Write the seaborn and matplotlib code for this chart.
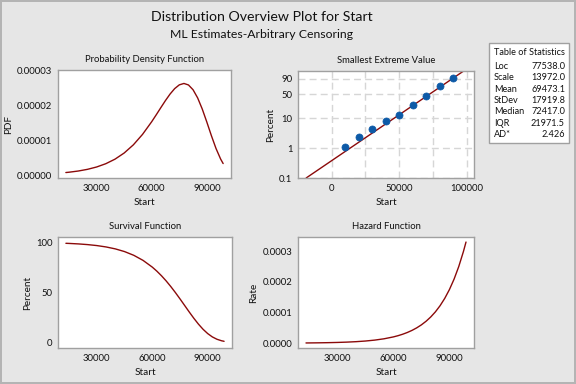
import numpy as np
import pandas as pd
import matplotlib
matplotlib.use("Agg")
import matplotlib.pyplot as plt
from matplotlib.patches import Rectangle
import seaborn as sns

# fitted smallest extreme value curves
start = [13267, 15000, 20000, 25000, 30000, 35000, 40000, 45000, 50000, 55000,
         60000, 62500, 65000, 67500, 70000, 72500, 75000, 77538, 80000, 82500,
         85000, 87500, 90000, 92500, 95000, 97500, 98874]
pdf = [7.12e-7, 8.05e-7, 1.146e-6, 1.628e-6, 2.305e-6, 3.250e-6, 4.554e-6, 6.325e-6,
       8.675e-6, 1.1686e-5, 1.5340e-5, 1.7349e-5, 1.9408e-5, 2.1430e-5, 2.3294e-5,
       2.4849e-5, 2.5924e-5, 2.6330e-5, 2.5899e-5, 2.4519e-5, 2.2174e-5, 1.8984e-5,
       1.5223e-5, 1.1287e-5, 7.621e-6, 4.600e-6, 3.296e-6]
survival = [99.00, 98.87, 98.39, 97.70, 96.73, 95.35, 93.42, 90.72, 86.99, 81.93,
            75.20, 71.12, 66.52, 61.42, 55.82, 49.79, 43.44, 36.79, 30.34, 24.02,
            18.16, 13.00, 8.72, 5.40, 3.05, 1.54, 1.00]
hazard = [7.19e-7, 8.14e-7, 1.165e-6, 1.666e-6, 2.383e-6, 3.408e-6, 4.875e-6, 6.972e-6,
          9.972e-6, 1.4262e-5, 2.0399e-5, 2.4396e-5, 2.9176e-5, 3.4892e-5, 4.1729e-5,
          4.9905e-5, 5.9684e-5, 7.1572e-5, 8.5363e-5, 1.02089e-4, 1.2209e-4, 1.4601e-4,
          1.7463e-4, 2.0884e-4, 2.4976e-4, 2.9870e-4, 3.2956e-4]

# probability plot
obs_start = [10000, 20000, 30000, 40000, 50000, 60000, 70000, 80000, 90000]
obs_pct = [1.1, 2.4, 4.4, 8.2, 12.8, 25.7, 44.8, 74.4, 91.7]
fit_start = [-18968, 98874]
fit_pct = [0.1, 99.0]

stat_names = ["Loc", "Scale", "Mean", "StDev", "Median", "IQR", "AD*"]
stat_values = ["77538.0", "13972.0", "69473.1", "17919.8", "72417.0", "21971.5", "2.426"]

sns.set_style("white")
plt.rcParams["font.family"] = ["Lato", "DejaVu Sans"]
plt.rcParams["axes.edgecolor"] = "#a0a0a0"
plt.rcParams["axes.linewidth"] = 1.0

RED = "#8b0a0a"
BLUE = "#0d5aa7"
BG = "#e6e6e6"
INK = "#111111"

fig = plt.figure(figsize=(5.76, 3.84), dpi=100, facecolor=BG)
fig.patch.set_edgecolor("#b4b4b4")
fig.patch.set_linewidth(1.5)

W, H = 576, 384


def box(l, t, r, b):
    return [l / W, 1 - b / H, (r - l) / W, (b - t) / H]


fig.text(262 / W, 1 - 17 / H, "Distribution Overview Plot for Start",
         ha="center", va="center", fontsize=10.2, color=INK)
fig.text(262 / W, 1 - 34 / H, "ML Estimates-Arbitrary Censoring",
         ha="center", va="center", fontsize=8.8, color=INK)

curves = pd.DataFrame({"Start": start, "PDF": pdf, "Percent": survival, "Rate": hazard})

ax1 = fig.add_axes(box(58, 70, 231, 178))
ax2 = fig.add_axes(box(298, 71, 474, 178))
ax3 = fig.add_axes(box(58, 237, 232, 348))
ax4 = fig.add_axes(box(298, 237, 474, 348))

# PDF
sns.lineplot(data=curves, x="Start", y="PDF", ax=ax1, color=RED, lw=1.0)
ax1.set_ylim(-8.6e-7, 3.02e-5)
ax1.set_yticks([0, 0.00001, 0.00002, 0.00003])
ax1.set_yticklabels(["0.00000", "0.00001", "0.00002", "0.00003"])
ax1.set_title("Probability Density Function")

# survival
sns.lineplot(data=curves, x="Start", y="Percent", ax=ax3, color=RED, lw=1.0)
ax3.set_ylim(-5.7, 105.3)
ax3.set_yticks([0, 50, 100])
ax3.set_title("Survival Function")

# hazard
sns.lineplot(data=curves, x="Start", y="Rate", ax=ax4, color=RED, lw=1.0)
ax4.set_yticks([0, 0.0001, 0.0002, 0.0003])
ax4.set_yticklabels(["0.0000", "0.0001", "0.0002", "0.0003"])
ax4.set_title("Hazard Function")

for ax in (ax1, ax3, ax4):
    ax.set_xticks([30000, 60000, 90000])
    ax.set_xlabel("Start")

# smallest extreme value probability plot
def fwd(p):
    p = np.clip(np.asarray(p, dtype=float), 1e-6, 99.9999)
    return np.log(-np.log(1 - p / 100))


def inv(y):
    return 100 * (1 - np.exp(-np.exp(y)))


ax2.set_yscale("function", functions=(fwd, inv))
sns.lineplot(x=fit_start, y=fit_pct, ax=ax2, color=RED, lw=1.0)
sns.scatterplot(x=obs_start, y=obs_pct, ax=ax2, color=BLUE, s=26, edgecolor=BLUE,
                linewidth=0.5, zorder=3)
ax2.set_xlim(-25000, 105500)
ax2.set_ylim(0.1, 98.6)
ax2.set_yticks([0.1, 1, 10, 50, 90])
ax2.set_yticklabels(["0.1", "1", "10", "50", "90"])
ax2.set_yticks([], minor=True)
ax2.set_xticks([0, 50000, 100000])
ax2.set_xticks([25000, 75000], minor=True)
ax2.grid(True, which="both", color="#d6d6d6", ls=(0, (5, 3)), lw=1.0)
ax2.set_axisbelow(True)
ax2.set_title("Smallest Extreme Value")
ax2.set_xlabel("Start")
ax2.set_ylabel("Percent")

for ax in (ax1, ax2, ax3, ax4):
    ax.title.set_fontsize(6.8)
    ax.title.set_color(INK)
    ax.xaxis.label.set_fontsize(7.2)
    ax.yaxis.label.set_fontsize(7.2)
    ax.xaxis.label.set_color(INK)
    ax.yaxis.label.set_color(INK)
    ax.tick_params(labelsize=6.8, length=2, width=0.8, colors="#a0a0a0",
                   labelcolor=INK, pad=2)
    ax.tick_params(which="minor", length=0)
    ax.set_facecolor("white")
    ax.xaxis.labelpad = 4
    ax.yaxis.labelpad = 3

# table of statistics
tab = fig.add_axes(box(489, 43, 569, 143))
tab.set_xlim(0, 1)
tab.set_ylim(0, 1)
tab.axis("off")
tab.add_patch(Rectangle((0, 0), 1, 1, facecolor="white", edgecolor="#a0a0a0",
                        lw=1.0, transform=tab.transAxes, clip_on=False))
tab.text(0.5, 0.9, "Table of Statistics", ha="center", va="center", fontsize=6.6, color=INK)
for i, (n, v) in enumerate(zip(stat_names, stat_values)):
    yy = 0.765 - i * 0.113
    tab.text(0.06, yy, n, ha="left", va="center", fontsize=6.6, color=INK)
    tab.text(0.95, yy, v, ha="right", va="center", fontsize=6.6, color=INK)

fig.savefig("out.png", dpi=100, facecolor=BG, edgecolor=fig.get_edgecolor())
